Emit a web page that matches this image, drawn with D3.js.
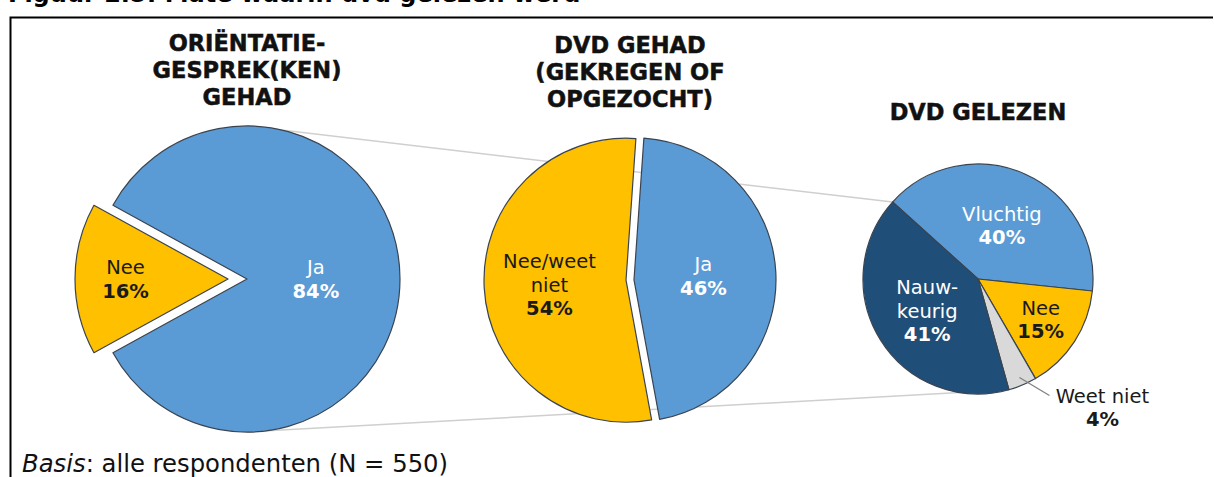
<!DOCTYPE html>
<html>
<head>
<meta charset="utf-8">
<script src="https://cdn.jsdelivr.net/npm/d3@7/dist/d3.min.js"></script>
<style>
   body { margin: 0; background: #fff; }
   svg { display: block; font-family: 'DejaVu Sans', Verdana, sans-serif; }
</style>
</head>
<body>
<div id="chart"></div>
<script>
// FIGURE TEXTS
var figureTitle = 'Figuur 2.5: Mate waarin dvd gelezen werd';
var footnoteLabel = 'Basis';
var footnoteText = ': alle respondenten (N = 550)';

// PIE 1 -- ORIENTATIEGESPREK
var gesprekTitle = ['ORIËNTATIE-', 'GESPREK(KEN)', 'GEHAD'];
var gesprekLabels = [['Ja'], ['Nee']];
var gesprekValues = [84, 16];

// PIE 2 -- DVD GEHAD
var dvdTitle = ['DVD GEHAD', '(GEKREGEN OF', 'OPGEZOCHT)'];
var dvdLabels = [['Ja'], ['Nee/weet', 'niet']];
var dvdValues = [46, 54];

// PIE 3 -- DVD GELEZEN
var gelezenTitle = ['DVD GELEZEN'];
var gelezenLabels = [['Vluchtig'], ['Nee'], ['Weet niet'], ['Nauw-', 'keurig']];
var gelezenValues = [40, 15, 4, 41];

// SETTINGS
var settings = {
   width: 1214,
   height: 477,
   stroke: '#3a4450',
   connector: '#cfcfcf',
   lineHeight: 23.5,
   titleLine: 27
}

// PIE LAYOUTS
var pies = [
   {
      title: gesprekTitle, labels: gesprekLabels, values: gesprekValues,
      colors: ['#5B9BD5', '#FFC000'], text: ['#ffffff', '#1a1a1a'],
      cx: 247, cy: 279, r: 153, start: -61.2, explode: [0, 19],
      labelRadius: [0.45, 0.67], titleY: 51
   },
   {
      title: dvdTitle, labels: dvdLabels, values: dvdValues,
      colors: ['#5B9BD5', '#FFC000'], text: ['#ffffff', '#1a1a1a'],
      cx: 630, cy: 280, r: 142, start: 4, explode: [4, 4],
      labelRadius: [0.49, 0.54], titleY: 53
   },
   {
      title: gelezenTitle, labels: gelezenLabels, values: gelezenValues,
      colors: ['#5B9BD5', '#FFC000', '#D9D9D9', '#1F4E79'], text: ['#ffffff', '#1a1a1a', '#1a1a1a', '#ffffff'],
      cx: 978, cy: 279, r: 115, start: -48, explode: [0, 0, 0, 0],
      labelRadius: [0.51, 0.65, null, 0.52], titleY: 120
   }
];

// DEGREES TO RADIANS
function rad(deg) { return deg * Math.PI / 180; }

// POINT ON CIRCLE (D3 ANGLE: 0 AT TOP, CLOCKWISE)
function polar(pie, angle, radius) {
   return [pie.cx + radius * Math.sin(angle), pie.cy - radius * Math.cos(angle)];
}

// GENERATE CANVAS
var canvas = d3.select('#chart').append('svg')
   .attr('width', settings.width)
   .attr('height', settings.height)

// CUT OFF FIGURE TITLE (ONLY ITS LOWER EDGE IS IN THE PICTURE)
canvas.append('text')
   .attr('x', 8)
   .attr('y', 2)
   .attr('font-size', 24)
   .attr('font-weight', 'bold')
   .text(figureTitle)

// FRAME
canvas.append('path')
   .attr('d', 'M10.5,477 L10.5,17.5 L1213,17.5')
   .attr('fill', 'none')
   .attr('stroke', '#000')
   .attr('stroke-width', 2)

// BUILD ARCS FOR EACH PIE
pies.forEach(pie => {
   pie.arcs = d3.pie()
      .sort(null)
      .startAngle(rad(pie.start))
      .endAngle(rad(pie.start) + 2 * Math.PI)
      (pie.values);
});

// CONNECTOR LINES -- FROM FIRST PIE TO LAST PIE
var first = pies[0], last = pies[2];
var topStart = polar(first, 0, first.r);
var topEnd = polar(last, last.arcs[0].startAngle, last.r);
var bottomStart = polar(first, Math.PI, first.r);
var bottomEnd = polar(last, last.arcs[2].endAngle, last.r);

[[topStart, topEnd], [bottomStart, bottomEnd]].forEach(points => {
   canvas.append('line')
      .attr('x1', points[0][0])
      .attr('y1', points[0][1])
      .attr('x2', points[1][0])
      .attr('y2', points[1][1])
      .attr('stroke', settings.connector)
      .attr('stroke-width', 1.5)
});

// DRAW PIES
pies.forEach(pie => {

   // ARC GENERATOR
   var arc = d3.arc()
      .innerRadius(0)
      .outerRadius(pie.r)

   // GROUP
   var group = canvas.append('g')
      .attr('transform', 'translate(' + pie.cx + ',' + pie.cy + ')')

   // OFFSET OF EXPLODED SLICE
   var offset = (d, i) => {
      var mid = (d.startAngle + d.endAngle) / 2;
      return [pie.explode[i] * Math.sin(mid), -pie.explode[i] * Math.cos(mid)];
   }

   // SLICES
   group.selectAll('path.slice')
      .data(pie.arcs)
         .enter().append('path')
            .attr('class', 'slice')
            .attr('d', arc)
            .attr('transform', (d, i) => { return 'translate(' + offset(d, i) + ')' })
            .attr('fill', (d, i) => { return pie.colors[i] })
            .attr('stroke', settings.stroke)
            .attr('stroke-width', 1.2)
            .attr('stroke-linejoin', 'round')

   // LABELS
   pie.arcs.forEach((d, i) => {

      var lines = pie.labels[i];
      var mid = (d.startAngle + d.endAngle) / 2;
      var shift = offset(d, i);
      var label = group.append('text')
         .attr('text-anchor', 'middle')
         .attr('font-size', 19.5)
         .attr('fill', pie.text[i])

      // INSIDE LABEL
      if (pie.labelRadius[i] != null) {
         var lr = pie.labelRadius[i] * pie.r;
         var pos = [shift[0] + lr * Math.sin(mid), shift[1] - lr * Math.cos(mid)];
         var top = pos[1] - (lines.length * settings.lineHeight) / 2 + 7;

         lines.concat([d.data + '%']).forEach((line, j) => {
            label.append('tspan')
               .attr('x', pos[0])
               .attr('y', top + j * settings.lineHeight)
               .attr('font-weight', j == lines.length ? 'bold' : 'normal')
               .text(line)
         });

      // OUTSIDE LABEL WITH LEADER
      } else {
         var from = [0.93 * pie.r * Math.sin(mid), -0.93 * pie.r * Math.cos(mid)];
         var to = [from[0] + 30, from[1] + 18];

         group.append('line')
            .attr('x1', from[0])
            .attr('y1', from[1])
            .attr('x2', to[0])
            .attr('y2', to[1])
            .attr('stroke', '#7f7f7f')
            .attr('stroke-width', 1.2)

         lines.concat([d.data + '%']).forEach((line, j) => {
            label.append('tspan')
               .attr('x', to[0] + 53)
               .attr('y', to[1] + 7 + j * settings.lineHeight)
               .attr('font-weight', j == lines.length ? 'bold' : 'normal')
               .attr('fill', '#1a1a1a')
               .text(line)
         });
      }
   });

   // TITLE
   var title = canvas.append('text')
      .attr('text-anchor', 'middle')
      .attr('font-size', 22.5)
      .attr('font-weight', 'bold')
      .attr('fill', '#111')
      .attr('stroke', '#111')
      .attr('stroke-width', 0.5)

   pie.title.forEach((line, j) => {
      title.append('tspan')
         .attr('x', pie.cx)
         .attr('y', pie.titleY + j * settings.titleLine)
         .text(line)
   });
});

// FOOTNOTE
var footnote = canvas.append('text')
   .attr('x', 22)
   .attr('y', 472)
   .attr('font-size', 24.3)
   .attr('fill', '#111')

footnote.append('tspan')
   .attr('font-style', 'italic')
   .text(footnoteLabel)

footnote.append('tspan')
   .text(footnoteText)
</script>
</body>
</html>
